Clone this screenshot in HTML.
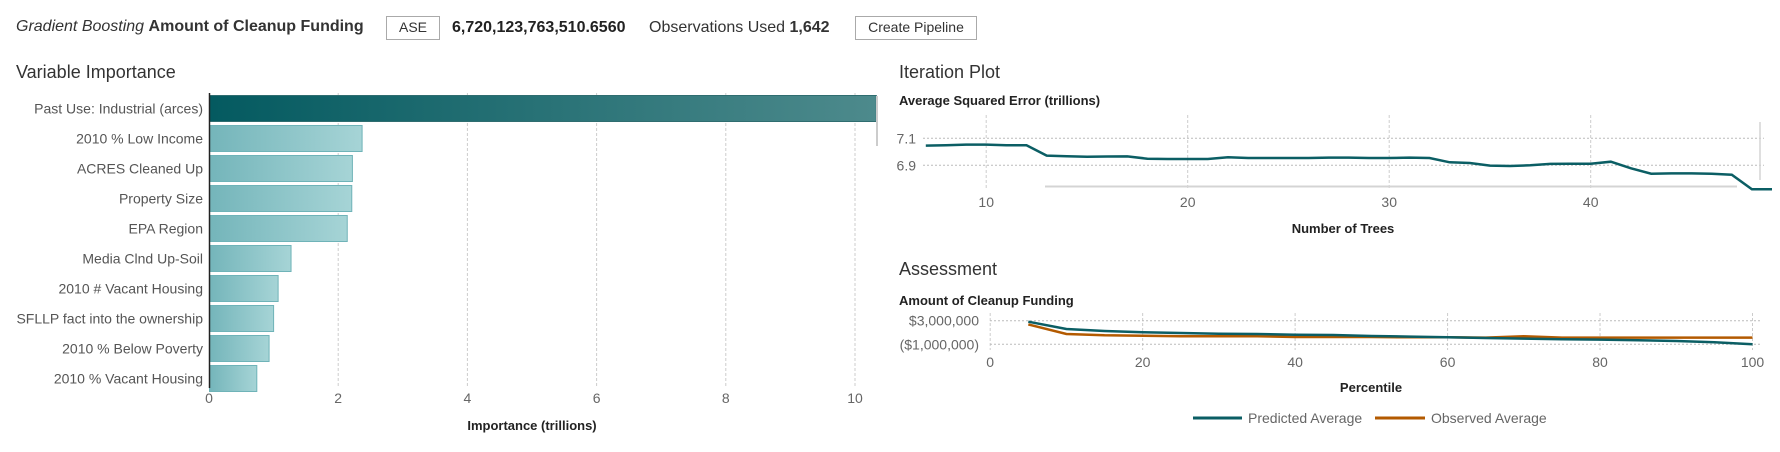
<!DOCTYPE html>
<html><head><meta charset="utf-8"><style>
body{margin:0;width:1780px;height:452px;background:#fff;overflow:hidden;font-family:"Liberation Sans",sans-serif}
svg{position:absolute;left:0;top:0}
text{font-family:"Liberation Sans",sans-serif}
</style></head><body>
<svg width="1780" height="452">
<defs>
<linearGradient id="g1" x1="0" x2="1"><stop offset="0" stop-color="#045a60"/><stop offset="1" stop-color="#4d8a8c"/></linearGradient>
<linearGradient id="g2" x1="0" x2="1"><stop offset="0" stop-color="#74b5ba"/><stop offset="1" stop-color="#a6d4d6"/></linearGradient>
</defs>
<g>
<text x="16" y="31" font-size="16" fill="#333"><tspan font-style="italic">Gradient Boosting</tspan> <tspan font-weight="bold">Amount of Cleanup Funding</tspan></text>
<rect x="386.5" y="16.5" width="53" height="23" fill="#fff" stroke="#aaa"/>
<text x="413" y="32" font-size="14" text-anchor="middle" fill="#333">ASE</text>
<text x="452" y="32" font-size="16" font-weight="bold" fill="#222">6,720,123,763,510.6560</text>
<text x="649" y="32" font-size="16" fill="#333">Observations Used <tspan font-weight="bold">1,642</tspan></text>
<rect x="855.5" y="16.5" width="121" height="23" fill="#fff" stroke="#aaa"/>
<text x="916" y="32" font-size="14" text-anchor="middle" fill="#333">Create Pipeline</text>
</g>
<text x="16" y="78" font-size="18" fill="#333">Variable Importance</text>
<g id="vi"></g>
<text x="899" y="78" font-size="18" fill="#333">Iteration Plot</text>
<text x="899" y="105" font-size="13" font-weight="bold" fill="#222">Average Squared Error (trillions)</text>
<g id="it"></g>
<text x="899" y="275" font-size="18" fill="#333">Assessment</text>
<text x="899" y="305" font-size="13" font-weight="bold" fill="#222">Amount of Cleanup Funding</text>
<g id="as"></g>
</svg>
<script>
const viLabels=["Past Use: Industrial (arces)","2010 % Low Income","ACRES Cleaned Up","Property Size","EPA Region","Media Clnd Up-Soil","2010 # Vacant Housing","SFLLP fact into the ownership","2010 % Below Poverty","2010 % Vacant Housing"];
const viValues=[10.33,2.37,2.22,2.21,2.14,1.27,1.07,1.0,0.93,0.74];
const viTicks=[0,2,4,6,8,10];
const itTrees=[7,8,9,10,11,12,13,14,15,16,17,18,19,20,21,22,23,24,25,26,27,28,29,30,31,32,33,34,35,36,37,38,39,40,41,42,43,44,45,46,47,48,49];
const itValues=[7.046,7.048,7.053,7.053,7.049,7.048,6.972,6.967,6.964,6.965,6.966,6.949,6.947,6.947,6.947,6.959,6.954,6.954,6.954,6.954,6.957,6.957,6.954,6.954,6.957,6.954,6.922,6.917,6.898,6.895,6.900,6.910,6.912,6.912,6.927,6.878,6.838,6.840,6.840,6.838,6.830,6.722,6.722];
const itXTicks=[10,20,30,40];
const itYTicks=[6.9,7.1];
const asPct=[5,10,15,20,25,30,35,40,45,50,55,60,65,70,75,80,85,90,95,100];
const asPred=[2.83,1.59,1.25,1.03,0.92,0.80,0.75,0.63,0.58,0.41,0.30,0.18,0.07,-0.04,-0.15,-0.21,-0.32,-0.44,-0.66,-1.0];
const asObs=[2.38,0.75,0.52,0.46,0.35,0.35,0.35,0.24,0.24,0.24,0.18,0.18,0.13,0.35,0.13,0.13,0.13,0.13,0.13,0.13];
const asXTicks=[0,20,40,60,80,100];
const asYTicks=[3,-1];
const asYLabels=["$3,000,000","($1,000,000)"];

const NS="http://www.w3.org/2000/svg";
function mk(p,t,a,txt){const e=document.createElementNS(NS,t);for(const k in a)e.setAttribute(k,a[k]);if(txt!==undefined)e.textContent=txt;p.appendChild(e);return e;}

// Variable importance
const vi=document.getElementById('vi');
const vx=v=>209+v*64.6, vyTop=i=>95.5+i*30;
viTicks.forEach(t=>{if(t>0){const g=mk(vi,'line',{x1:vx(t),x2:vx(t),y1:93,y2:388,stroke:'#ccc','stroke-dasharray':'3,2'});

}
const l=mk(vi,'text',{x:vx(t),y:403,'font-size':14,fill:'#666','text-anchor':'middle'},String(t));

});
viValues.forEach((v,i)=>{const b=mk(vi,'rect',{x:209.5,y:vyTop(i),width:vx(v)-209.5,height:26,fill:i==0?'url(#g1)':'url(#g2)',stroke:i==0?'#2f6d70':'#6fb3b8','stroke-width':1});


const l=mk(vi,'text',{x:203,y:vyTop(i)+18,'font-size':14,fill:'#555','text-anchor':'end'},viLabels[i]);

});
const ax=mk(vi,'line',{x1:209.5,x2:209.5,y1:93,y2:388,stroke:'#222','stroke-width':1.5});


const sb=mk(vi,'line',{x1:877,x2:877,y1:96,y2:146,stroke:'#ccc','stroke-width':2});


const vt=mk(vi,'text',{x:532,y:430,'font-size':13,'font-weight':'bold',fill:'#222','text-anchor':'middle'},'Importance (trillions)');



// Iteration plot
const it=document.getElementById('it');
const ix=t=>986.2+(t-10)*20.15, iy=v=>138.3+(7.1-v)*135;
itXTicks.forEach(t=>{const g=mk(it,'line',{x1:ix(t),x2:ix(t),y1:115,y2:190,stroke:'#ccc','stroke-dasharray':'3,2'});


const l=mk(it,'text',{x:ix(t),y:207,'font-size':14,fill:'#666','text-anchor':'middle'},String(t));

});
itYTicks.forEach(t=>{const g=mk(it,'line',{x1:923,x2:1764,y1:iy(t),y2:iy(t),stroke:'#bbb','stroke-dasharray':'2,2'});


const l=mk(it,'text',{x:916,y:iy(t)+5,'font-size':14,fill:'#666','text-anchor':'end'},t.toFixed(1));

});
const isb=mk(it,'line',{x1:1045,x2:1737,y1:186.5,y2:186.5,stroke:'#d4d4d4','stroke-width':2});


const isv=mk(it,'line',{x1:1760,x2:1760,y1:122,y2:180,stroke:'#d4d4d4','stroke-width':1.5});


const ip=mk(it,'polyline',{points:itTrees.map((t,i)=>ix(t).toFixed(1)+','+iy(itValues[i]).toFixed(1)).join(' '),fill:'none',stroke:'#0b5e64','stroke-width':2.5});


const ixt=mk(it,'text',{x:1343,y:233,'font-size':13,'font-weight':'bold',fill:'#222','text-anchor':'middle'},'Number of Trees');



// Assessment
const as=document.getElementById('as');
const px=p=>990.2+p*7.623, py=v=>320.7+(3-v)*5.9;
asXTicks.forEach(t=>{const g=mk(as,'line',{x1:px(t),x2:px(t),y1:313,y2:350,stroke:'#ccc','stroke-dasharray':'3,2'});


const l=mk(as,'text',{x:px(t),y:367,'font-size':14,fill:'#666','text-anchor':'middle'},String(t));

});
asYTicks.forEach((t,i)=>{const g=mk(as,'line',{x1:990,x2:1760,y1:py(t),y2:py(t),stroke:'#bbb','stroke-dasharray':'2,2'});


const l=mk(as,'text',{x:979,y:py(t)+5,'font-size':14,fill:'#666','text-anchor':'end'},asYLabels[i]);

});
const po=mk(as,'polyline',{points:asPct.map((p,i)=>px(p).toFixed(1)+','+py(asObs[i]).toFixed(1)).join(' '),fill:'none',stroke:'#b35a00','stroke-width':2.5});


const pp=mk(as,'polyline',{points:asPct.map((p,i)=>px(p).toFixed(1)+','+py(asPred[i]).toFixed(1)).join(' '),fill:'none',stroke:'#0b5e64','stroke-width':2.5});


const axt=mk(as,'text',{x:1371,y:392,'font-size':13,'font-weight':'bold',fill:'#222','text-anchor':'middle'},'Percentile');


const lg1=mk(as,'g',{});


mk(lg1,'line',{x1:1193,x2:1242,y1:418,y2:418,stroke:'#0b5e64','stroke-width':3});
mk(lg1,'text',{x:1248,y:423,'font-size':14,fill:'#666'},'Predicted Average');
const lg2=mk(as,'g',{});


mk(lg2,'line',{x1:1375,x2:1425,y1:418,y2:418,stroke:'#b35a00','stroke-width':3});
mk(lg2,'text',{x:1431,y:423,'font-size':14,fill:'#666'},'Observed Average');
</script>
</body></html>
